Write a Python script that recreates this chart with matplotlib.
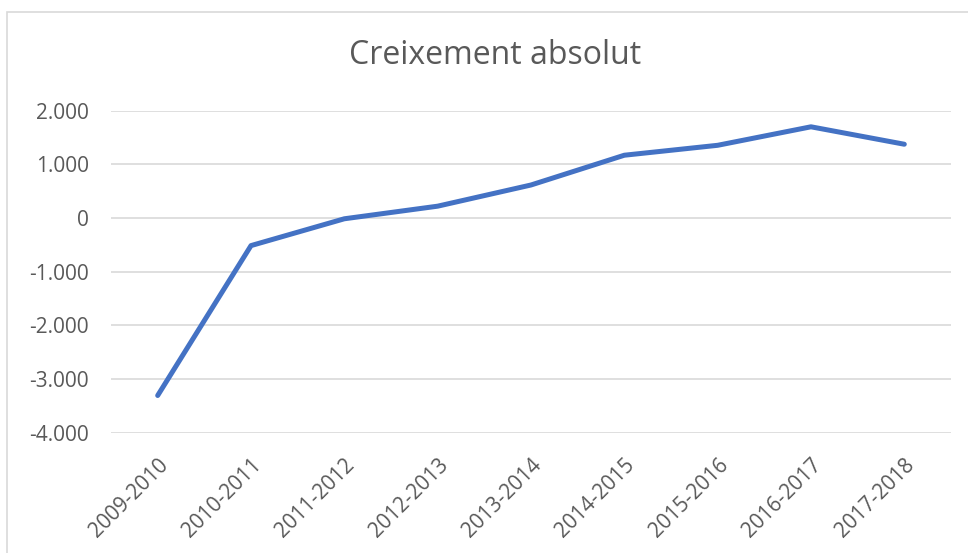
import matplotlib.pyplot as plt
from matplotlib.patches import Rectangle
from matplotlib.ticker import FuncFormatter

# data
periods = ["2009-2010", "2010-2011", "2011-2012", "2012-2013", "2013-2014",
           "2014-2015", "2015-2016", "2016-2017", "2017-2018"]
growth = [-3310, -515, -15, 220, 615, 1170, 1355, 1700, 1375]

grey = "#595959"
plt.rcParams["font.family"] = ["Open Sans", "DejaVu Sans"]

fig = plt.figure(figsize=(9.68, 5.53), dpi=100)
ax = fig.add_axes([0.1147, 0.2179, 0.8677, 0.5819])

# outer chart border (Excel style)
fig.patches.append(Rectangle((7 / 968, -0.05), 1.0, 1 - 12 / 553 + 0.05,
                             transform=fig.transFigure, fill=False,
                             edgecolor="#d9d9d9", linewidth=1.2))

x = list(range(len(periods)))
ax.plot(x, growth, color="#4472C4", linewidth=3.6,
        solid_capstyle="round", solid_joinstyle="round", zorder=3)

ax.set_xlim(-0.5, len(periods) - 0.5)
ax.set_ylim(-4000, 2000)
ax.set_yticks(range(-4000, 2001, 1000))
ax.yaxis.set_major_formatter(FuncFormatter(lambda v, p: f"{int(v):,}".replace(",", ".")))
ax.grid(axis="y", color="#d9d9d9", linewidth=1.2)
ax.set_axisbelow(True)
for s in ax.spines.values():
    s.set_visible(False)
ax.tick_params(axis="both", length=0, colors=grey, labelsize=15)
ax.tick_params(axis="y", pad=16)
ax.set_xticks(x)
ax.set_xticklabels(periods, rotation=45, ha="right", rotation_mode="anchor")
ax.tick_params(axis="x", pad=16)

fig.text(0.511, 0.9, "Creixement absolut", ha="center", va="center",
         fontsize=23, color=grey)

fig.savefig("out.png", dpi=100)
